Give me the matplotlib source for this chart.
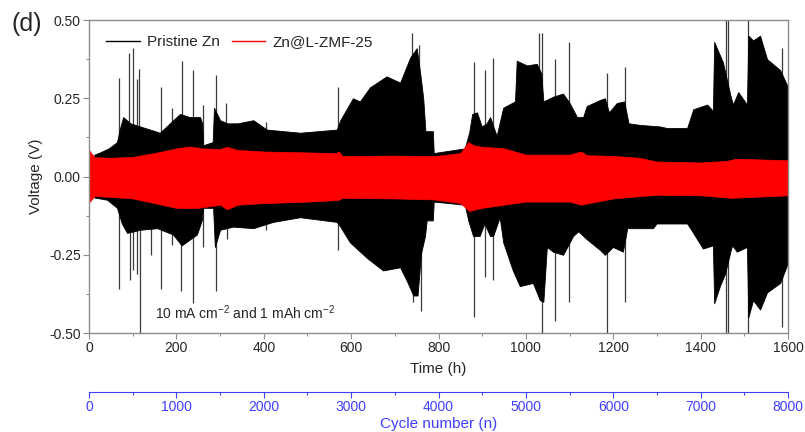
import matplotlib
matplotlib.use("Agg")
import matplotlib.pyplot as plt
from matplotlib.lines import Line2D
from matplotlib.ticker import MultipleLocator

plt.rcParams["font.family"] = ["Liberation Sans", "DejaVu Sans"]

# Pristine Zn voltage envelope (upper / lower)
black_hi_t = [12, 25, 45, 64, 70, 78, 95, 117, 140, 162, 185, 208, 230, 254, 259, 261, 283, 286,
              300, 316, 340, 376, 407, 483, 567, 575, 604, 620, 643, 681, 712, 735, 750, 758,
              765, 770, 787, 789, 860, 870, 877, 888, 899, 910, 918, 933, 948, 975, 979, 1002,
              1025, 1035, 1040, 1062, 1085, 1100, 1117, 1131, 1139, 1170, 1181, 1190, 1208,
              1225, 1235, 1261, 1307, 1323, 1369, 1383, 1415, 1428, 1431, 1451, 1468, 1474,
              1486, 1506, 1509, 1520, 1536, 1552, 1582, 1600]
black_hi_v = [0.07, 0.077, 0.09, 0.11, 0.15, 0.19, 0.17, 0.16, 0.15, 0.14, 0.17, 0.2, 0.19, 0.19,
              0.17, 0.1, 0.11, 0.22, 0.18, 0.17, 0.17, 0.18, 0.15, 0.14, 0.15, 0.18, 0.25, 0.24,
              0.285, 0.32, 0.30, 0.38, 0.41, 0.33, 0.25, 0.145, 0.145, 0.075, 0.09, 0.14, 0.2,
              0.205, 0.16, 0.17, 0.19, 0.13, 0.22, 0.24, 0.37, 0.355, 0.36, 0.33, 0.24, 0.255,
              0.265, 0.235, 0.19, 0.19, 0.225, 0.245, 0.25, 0.205, 0.235, 0.24, 0.17, 0.165,
              0.16, 0.155, 0.155, 0.215, 0.23, 0.21, 0.43, 0.365, 0.26, 0.23, 0.27, 0.23, 0.45,
              0.435, 0.45, 0.375, 0.34, 0.285]

black_lo_t = [12, 41, 64, 75, 87, 117, 156, 192, 212, 247, 258, 261, 284, 288, 300, 330, 376,
              421, 483, 567, 575, 597, 636, 673, 712, 728, 742, 752, 760, 769, 773, 787, 789,
              860, 868, 879, 894, 905, 918, 925, 940, 948, 970, 986, 1016, 1032, 1040, 1048,
              1062, 1085, 1108, 1120, 1139, 1170, 1181, 1199, 1222, 1232, 1291, 1299, 1369,
              1383, 1405, 1428, 1431, 1444, 1456, 1468, 1472, 1483, 1506, 1509, 1520, 1536,
              1552, 1582, 1600]
black_lo_v = [-0.067, -0.074, -0.1, -0.15, -0.18, -0.17, -0.165, -0.185, -0.22, -0.185, -0.14,
              -0.1, -0.1, -0.225, -0.17, -0.16, -0.165, -0.145, -0.13, -0.145, -0.16, -0.21,
              -0.26, -0.3, -0.29, -0.335, -0.38, -0.38, -0.245, -0.19, -0.14, -0.14, -0.08,
              -0.09, -0.14, -0.19, -0.19, -0.15, -0.19, -0.19, -0.13, -0.21, -0.3, -0.35,
              -0.34, -0.395, -0.4, -0.225, -0.24, -0.25, -0.19, -0.175, -0.2, -0.235, -0.25,
              -0.225, -0.24, -0.165, -0.165, -0.15, -0.15, -0.18, -0.23, -0.22, -0.405, -0.35,
              -0.31, -0.24, -0.22, -0.24, -0.225, -0.45, -0.395, -0.425, -0.37, -0.34, -0.275]

# isolated voltage spikes of the pristine cell
spike_up_t = [69, 92, 101, 109, 114, 165, 190, 212, 238, 260, 290, 314, 405, 571, 739, 756,
              881, 906, 924, 1030, 1037, 1066, 1099, 1186, 1227, 1458, 1463, 1509, 1586]
spike_up_v = [0.315, 0.395, 0.41, 0.31, 0.345, 0.285, 0.22, 0.37, 0.34, 0.23, 0.325, 0.235,
              0.175, 0.285, 0.46, 0.42, 0.365, 0.34, 0.38, 0.46, 0.46, 0.375, 0.43, 0.33,
              0.35, 0.5, 0.5, 0.5, 0.41]
spike_dn_t = [69, 94, 101, 109, 117, 142, 165, 190, 211, 238, 260, 290, 315, 405, 571, 742,
              760, 881, 906, 924, 1037, 1066, 1099, 1186, 1227, 1458, 1463, 1509, 1586]
spike_dn_v = [-0.36, -0.33, -0.30, -0.31, -0.5, -0.25, -0.36, -0.22, -0.365, -0.405, -0.225,
              -0.365, -0.2, -0.17, -0.235, -0.4, -0.43, -0.45, -0.32, -0.33, -0.5, -0.46,
              -0.4, -0.5, -0.4, -0.5, -0.5, -0.5, -0.48]

# Zn@L-ZMF-25 voltage envelope
red_hi_t = [0, 5, 12, 50, 100, 150, 200, 230, 260, 300, 316, 340, 400, 500, 565, 572, 580,
            700, 790, 850, 868, 880, 900, 950, 1000, 1100, 1126, 1140, 1200, 1260, 1300,
            1400, 1460, 1480, 1600]
red_hi_v = [0.085, 0.075, 0.062, 0.06, 0.063, 0.075, 0.09, 0.096, 0.09, 0.088, 0.095, 0.085,
            0.08, 0.077, 0.075, 0.08, 0.065, 0.067, 0.065, 0.075, 0.11, 0.1, 0.095, 0.09,
            0.07, 0.07, 0.08, 0.068, 0.066, 0.06, 0.048, 0.045, 0.05, 0.057, 0.052]
red_lo_t = [0, 5, 12, 50, 100, 150, 200, 250, 300, 316, 340, 400, 500, 570, 580, 700, 790,
            850, 870, 900, 950, 1000, 1100, 1126, 1200, 1300, 1400, 1470, 1600]
red_lo_v = [-0.083, -0.075, -0.062, -0.065, -0.07, -0.085, -0.1, -0.1, -0.09, -0.105, -0.09,
            -0.085, -0.08, -0.075, -0.068, -0.07, -0.073, -0.085, -0.11, -0.1, -0.09, -0.08,
            -0.08, -0.09, -0.07, -0.058, -0.06, -0.068, -0.06]

x_ticks = [0, 200, 400, 600, 800, 1000, 1200, 1400, 1600]
y_ticks = [-0.50, -0.25, 0.00, 0.25, 0.50]
cycle_ticks = [0, 1000, 2000, 3000, 4000, 5000, 6000, 7000, 8000]

spine_c = "#8c8c8c"
text_c = "#262626"
blue = "#3f3fff"

fig = plt.figure(figsize=(8.05, 4.32), dpi=100)
ax = fig.add_axes([0.1106, 0.229, 0.8683, 0.7247])

ax.vlines(spike_up_t, 0, spike_up_v, color="#3a3a3a", lw=0.9, zorder=1)
ax.vlines(spike_dn_t, spike_dn_v, 0, color="#3a3a3a", lw=0.9, zorder=1)
ax.fill_between(black_hi_t, 0, black_hi_v, color="black", lw=0.6, edgecolor="black", zorder=2)
ax.fill_between(black_lo_t, black_lo_v, 0, color="black", lw=0.6, edgecolor="black", zorder=2)
ax.fill_between(red_hi_t, 0, red_hi_v, color="red", lw=0.5, edgecolor="red", zorder=3)
ax.fill_between(red_lo_t, red_lo_v, 0, color="red", lw=0.5, edgecolor="red", zorder=3)

ax.set_xlim(0, 1600)
ax.set_ylim(-0.5, 0.5)
ax.set_xticks(x_ticks)
ax.set_yticks(y_ticks)
ax.set_yticklabels([f"{v:.2f}" for v in y_ticks])
ax.xaxis.set_minor_locator(MultipleLocator(100))
ax.yaxis.set_minor_locator(MultipleLocator(0.125))
ax.tick_params(which="major", direction="out", length=4, width=0.8, color=spine_c,
               labelsize=10, labelcolor=text_c, pad=2)
ax.tick_params(which="minor", direction="out", length=2.5, width=0.8, color=spine_c)
for s in ax.spines.values():
    s.set_color(spine_c)
    s.set_linewidth(1.0)
    s.set_zorder(5)
ax.set_xlabel("Time (h)", fontsize=11, color=text_c, labelpad=5)
ax.set_ylabel("Voltage (V)", fontsize=11, color=text_c, labelpad=4)

handles = [Line2D([], [], color="black", lw=1), Line2D([], [], color="red", lw=1)]
ax.legend(handles, ["Pristine Zn", "Zn@L-ZMF-25"], loc="upper left", ncol=2,
          frameon=False, fontsize=11, handlelength=2.2, handletextpad=0.45,
          columnspacing=0.8, bbox_to_anchor=(0.005, 0.995), labelcolor=text_c)

ax.text(150, -0.435, r"10 mA cm$^{\mathregular{-2}}$ and 1 mAh cm$^{\mathregular{-2}}$",
        fontsize=10, color=text_c, ha="left", va="center", zorder=6)
fig.text(0.033, 0.945, "(d)", fontsize=18, color=text_c, ha="center", va="center")

# secondary cycle-number axis below the time axis
ax2 = fig.add_axes([0.1106, 0.0926, 0.8683, 0.0])
ax2.set_xlim(0, 8000)
ax2.set_xticks(cycle_ticks)
ax2.xaxis.set_minor_locator(MultipleLocator(500))
ax2.set_yticks([])
for side in ["left", "right", "top"]:
    ax2.spines[side].set_visible(False)
ax2.spines["bottom"].set_color(blue)
ax2.tick_params(which="major", direction="out", length=4, width=0.8, color=blue,
                labelsize=10, labelcolor=blue, pad=2)
ax2.tick_params(which="minor", direction="out", length=2.5, width=0.8, color=blue)
ax2.set_xlabel("Cycle number (n)", fontsize=11, color=blue, labelpad=2)

fig.savefig("out.png", dpi=100)
